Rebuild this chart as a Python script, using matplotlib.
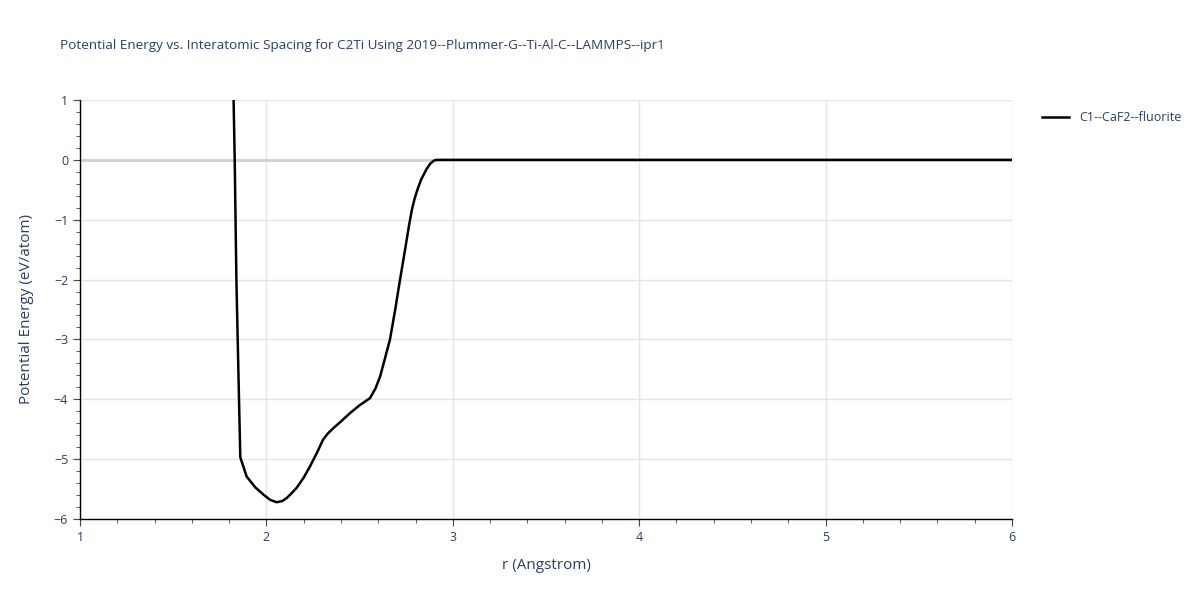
import numpy as np
import matplotlib.pyplot as plt
from matplotlib.ticker import MultipleLocator

plt.rcParams['font.family'] = ['Open Sans', 'DejaVu Sans']

# curve
r = [1.824, 1.83, 1.839, 1.853, 1.86, 1.894, 1.94, 1.983, 2.02, 2.055, 2.085,
     2.109, 2.135, 2.162, 2.2, 2.234, 2.27, 2.305, 2.33, 2.36, 2.4, 2.449, 2.5,
     2.556, 2.585, 2.61, 2.635, 2.663, 2.69, 2.717, 2.745, 2.765, 2.78, 2.795,
     2.81, 2.83, 2.86, 2.88, 2.9, 2.914, 2.93, 3.5, 4.0, 5.0, 6.0]
energy = [1.0, 0.0, -2.0, -4.0, -4.97, -5.29, -5.47, -5.59, -5.68, -5.72, -5.70,
          -5.65, -5.57, -5.48, -5.31, -5.12, -4.9, -4.67, -4.57, -4.48, -4.37, -4.23, -4.1,
          -3.98, -3.82, -3.62, -3.33, -3.0, -2.52, -2.0, -1.48, -1.1, -0.84, -0.65,
          -0.5, -0.33, -0.15, -0.06, -0.01, 0.0, 0.0, 0.0, 0.0, 0.0, 0.0]
series_name = 'C1--CaF2--fluorite'
title = 'Potential Energy vs. Interatomic Spacing for C2Ti Using 2019--Plummer-G--Ti-Al-C--LAMMPS--ipr1'

text_col = '#2a3f5f'
tick_col = '#444444'

fig = plt.figure(figsize=(12, 6), dpi=100)
ax = fig.add_axes([80/1200, 1 - 519/600, 932/1200, 419/600])

ax.plot(r, energy, color='black', lw=1.8, label=series_name, zorder=3)

ax.set_xlim(1, 6)
ax.set_ylim(-6, 1)
ax.xaxis.set_major_locator(MultipleLocator(1))
ax.xaxis.set_minor_locator(MultipleLocator(0.2))
ax.yaxis.set_major_locator(MultipleLocator(1))
ax.yaxis.set_minor_locator(MultipleLocator(0.2))
ax.grid(which='major', color='#e5e5e5', lw=1)
ax.axhline(0, color='#d0d0d0', lw=2, zorder=1)
ax.set_axisbelow(True)

for s in ['top', 'right']:
    ax.spines[s].set_visible(False)
for s in ['left', 'bottom']:
    ax.spines[s].set_color('black')
    ax.spines[s].set_linewidth(1)

ax.tick_params(which='major', length=5, color=tick_col, labelcolor=text_col, labelsize=9)
ax.tick_params(which='minor', length=3, color=tick_col)
ax.set_yticks(np.arange(-6, 2, 1))
ax.set_yticklabels(['\u22126', '\u22125', '\u22124', '\u22123', '\u22122', '\u22121', '0', '1'])

ax.set_xlabel('r (Angstrom)', fontsize=11, color=text_col, labelpad=10)
ax.set_ylabel('Potential Energy (eV/atom)', fontsize=11, color=text_col, labelpad=14)

fig.text(60/1200, 1 - 46/600, title, fontsize=9.7, color=text_col, va='center')

leg = ax.legend(loc='upper left', bbox_to_anchor=(1.02, 1.0), frameon=False,
                fontsize=9, handlelength=2.2)
for t in leg.get_texts():
    t.set_color(text_col)

plt.savefig('out.png', dpi=100)
